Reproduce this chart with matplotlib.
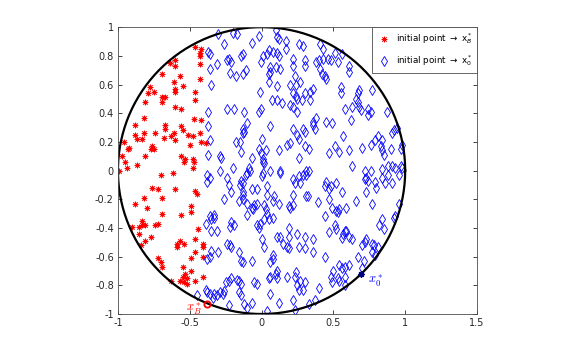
import numpy as np
import matplotlib
matplotlib.use("Agg")
import matplotlib.pyplot as plt
from matplotlib.font_manager import FontProperties

# initial points that end in x_B^* (red) and in x_0^* (blue)
red_pts = [
    (-0.46, 0.86), (-0.42, 0.85), (-0.43, 0.82), (-0.43, 0.80), (-0.60, 0.77), (-0.64, 0.75),
    (-0.60, 0.73), (-0.43, 0.74), (-0.69, 0.67), (-0.57, 0.66), (-0.43, 0.64), (-0.61, 0.62),
    (-0.55, 0.59), (-0.60, 0.57), (-0.60, 0.55), (-0.78, 0.58), (-0.75, 0.55), (-0.79, 0.54),
    (-0.46, 0.55), (-0.69, 0.51), (-0.67, 0.51),
    (-0.69, 0.48), (-0.81, 0.48), (-0.46, 0.49), (-0.60, 0.44), (-0.56, 0.43), (-0.82, 0.37),
    (-0.47, 0.36), (-0.42, 0.35), (-0.88, 0.32), (-0.67, 0.32), (-0.67, 0.29), (-0.56, 0.31),
    (-0.55, 0.28), (-0.82, 0.26), (-0.74, 0.26), (-0.61, 0.26), (-0.63, 0.24), (-0.51, 0.25),
    (-0.48, 0.24), (-0.88, 0.25), (-0.87, 0.22), (-0.83, 0.22), (-0.68, 0.23), (-0.60, 0.21),
    (-0.43, 0.26), (-0.42, 0.20), (-0.39, 0.19), (-0.96, 0.20), (-0.50, 0.18), (-0.76, 0.17),
    (-0.77, 0.15), (-0.75, 0.15), (-0.93, 0.15), (-0.92, 0.16), (-0.81, 0.10), (-0.97, 0.10),
    (-0.56, 0.10), (-0.53, 0.08), (-0.54, 0.06), (-0.48, 0.08), (-0.47, 0.06), (-0.95, 0.06),
    (-0.87, 0.04), (-0.48, 0.02), (-0.94, 0.02), (-0.99, 0.00),
    (-0.70, -0.03), (-0.62, -0.02), (-0.76, -0.12), (-0.72, -0.13), (-0.60, -0.13), (-0.69, -0.19),
    (-0.46, -0.14), (-0.45, -0.16), (-0.82, -0.19), (-0.88, -0.23), (-0.49, -0.25), (-0.80, -0.26),
    (-0.69, -0.30), (-0.49, -0.29), (-0.56, -0.31), (-0.83, -0.35), (-0.83, -0.38), (-0.81, -0.38),
    (-0.85, -0.39), (-0.90, -0.39), (-0.74, -0.38), (-0.72, -0.37), (-0.44, -0.41), (-0.85, -0.44),
    (-0.77, -0.46), (-0.81, -0.49), (-0.57, -0.49), (-0.54, -0.51), (-0.59, -0.51), (-0.46, -0.48),
    (-0.41, -0.51), (-0.84, -0.52),
    (-0.59, -0.53), (-0.41, -0.53), (-0.72, -0.61), (-0.70, -0.64), (-0.69, -0.67), (-0.55, -0.67),
    (-0.49, -0.61), (-0.46, -0.57), (-0.49, -0.70), (-0.53, -0.72), (-0.55, -0.74), (-0.52, -0.75),
    (-0.57, -0.77), (-0.54, -0.78), (-0.52, -0.79), (-0.63, -0.77), (-0.41, -0.74), (-0.46, -0.77),
    (-0.41, -0.60),
]

blue_pts = [
    (-0.37, 0.83), (-0.36, 0.81), (-0.36, 0.71), (-0.35, 0.60),
    (-0.30, 0.95), (-0.20, 0.96), (-0.17, 0.95), (-0.02, 0.94), (0.10, 0.98), (0.11, 0.93),
    (0.12, 0.92), (-0.26, 0.88), (-0.07, 0.89), (0.17, 0.90), (0.26, 0.88), (0.29, 0.87),
    (0.17, 0.85), (0.05, 0.84), (0.08, 0.83), (0.11, 0.82), (0.04, 0.81), (0.12, 0.80),
    (0.01, 0.80), (-0.14, 0.80), (-0.13, 0.81), (-0.23, 0.78), (-0.24, 0.77), (-0.21, 0.76),
    (-0.31, 0.74), (-0.005, 0.76), (0.22, 0.78), (0.30, 0.77), (0.06, 0.72), (0.10, 0.72),
    (0.13, 0.71), (0.22, 0.73), (-0.11, 0.70), (-0.13, 0.67), (0.06, 0.69), (0.05, 0.67),
    (-0.22, 0.68), (-0.18, 0.66), (0.23, 0.66), (0.05, 0.62), (0.11, 0.59), (0.20, 0.60),
    (0.24, 0.60), (0.27, 0.62), (-0.01, 0.55), (0.22, 0.54), (0.24, 0.52), (0.30, 0.54),
    (0.41, 0.88), (0.43, 0.85), (0.30, 0.73), (0.38, 0.76), (0.40, 0.77), (0.43, 0.78),
    (0.46, 0.78), (0.48, 0.77), (0.51, 0.82), (0.56, 0.81), (0.53, 0.76), (0.61, 0.73),
    (0.61, 0.69), (0.41, 0.71), (0.42, 0.67), (0.44, 0.66), (0.45, 0.64), (0.36, 0.57),
    (0.34, 0.55), (0.55, 0.58), (0.55, 0.54), (0.67, 0.54), (0.68, 0.56), (0.77, 0.56),
    (0.66, 0.50),
    (-0.37, 0.41), (-0.37, 0.31), (-0.36, 0.21), (-0.37, 0.11),
    (-0.24, 0.43), (-0.19, 0.43), (-0.12, 0.41), (-0.02, 0.41), (-0.005, 0.43), (0.07, 0.49),
    (0.11, 0.49), (0.14, 0.47), (0.20, 0.46), (0.22, 0.44), (0.25, 0.50), (0.28, 0.49),
    (0.25, 0.41), (-0.10, 0.33), (-0.13, 0.29), (-0.12, 0.27), (-0.13, 0.26), (0.06, 0.31),
    (0.22, 0.29), (0.29, 0.29), (0.30, 0.27), (0.25, 0.25), (0.26, 0.22), (-0.18, 0.20),
    (-0.15, 0.20), (-0.14, 0.13), (0.00, 0.22), (0.18, 0.18), (0.20, 0.19), (0.30, 0.17),
    (-0.02, 0.15), (-0.005, 0.12), (0.01, 0.08), (0.01, 0.06), (0.03, 0.14), (-0.07, 0.09),
    (0.12, 0.14), (0.26, 0.09), (-0.29, 0.10), (-0.28, 0.09), (0.02, 0.05), (-0.29, 0.00),
    (-0.20, 0.02), (-0.09, 0.02), (-0.08, 0.00), (0.06, 0.00), (0.13, 0.00),
    (0.34, 0.49), (0.67, 0.48), (0.58, 0.43), (0.63, 0.44), (0.68, 0.44), (0.69, 0.42),
    (0.74, 0.43), (0.76, 0.41), (0.74, 0.39), (0.87, 0.41), (0.38, 0.37), (0.36, 0.34),
    (0.36, 0.32), (0.37, 0.29), (0.45, 0.34), (0.49, 0.33), (0.62, 0.35), (0.94, 0.30),
    (0.92, 0.28), (0.91, 0.26), (0.57, 0.24), (0.81, 0.24), (0.79, 0.21), (0.84, 0.21),
    (0.76, 0.18), (0.83, 0.17), (0.84, 0.14), (0.85, 0.11), (0.98, 0.18), (0.97, 0.15),
    (0.33, 0.15), (0.51, 0.17), (0.54, 0.13), (0.47, 0.12), (0.61, 0.14), (0.70, 0.16),
    (0.90, 0.15), (0.63, 0.03), (0.72, 0.00), (0.76, 0.00), (0.84, 0.01), (0.88, 0.03),
    (0.91, 0.03), (0.93, 0.02), (0.97, 0.03), (0.98, 0.02), (0.31, 0.00), (0.33, 0.00),
    (-0.38, -0.03), (-0.36, -0.05), (-0.38, -0.08), (-0.36, -0.32), (-0.39, -0.37), (-0.35, -0.42),
    (-0.24, -0.05), (-0.23, -0.10), (-0.14, -0.07), (-0.13, -0.09), (-0.15, -0.10), (-0.10, -0.02),
    (-0.11, -0.03), (0.01, -0.02), (0.00, -0.04), (0.13, -0.02), (0.22, -0.06), (0.26, -0.04),
    (0.29, -0.03), (0.23, -0.09), (0.27, -0.09), (-0.07, -0.13), (-0.03, -0.13), (0.04, -0.11),
    (0.04, -0.17), (-0.21, -0.15), (-0.13, -0.15), (-0.13, -0.17), (-0.26, -0.20), (-0.16, -0.21),
    (-0.13, -0.20), (0.09, -0.18), (0.08, -0.21), (0.22, -0.17), (0.31, -0.18), (-0.10, -0.23),
    (-0.07, -0.26), (-0.05, -0.24), (-0.06, -0.27), (-0.10, -0.31), (-0.03, -0.23), (0.02, -0.24),
    (0.03, -0.27), (0.04, -0.30), (0.12, -0.23), (0.19, -0.25), (0.20, -0.26), (0.22, -0.24),
    (-0.33, -0.31), (-0.33, -0.33), (-0.35, -0.34), (0.02, -0.34), (0.05, -0.34), (0.08, -0.33),
    (-0.21, -0.36), (-0.19, -0.38), (-0.22, -0.39), (-0.03, -0.38), (-0.01, -0.37), (-0.02, -0.40),
    (0.19, -0.40), (-0.31, -0.42), (0.25, -0.44), (0.30, -0.46), (0.19, -0.46), (0.11, -0.46),
    (0.13, -0.46), (0.00, -0.48), (-0.24, -0.51), (-0.22, -0.52), (0.15, -0.51),
    (0.31, -0.03), (0.73, -0.05), (0.72, -0.06), (0.74, -0.07), (0.84, -0.05), (0.88, -0.03),
    (0.96, -0.03), (0.91, -0.09), (0.79, -0.08), (0.80, -0.12), (0.86, -0.09), (0.45, -0.08),
    (0.44, -0.11), (0.48, -0.11), (0.52, -0.09), (0.47, -0.13), (0.56, -0.15), (0.73, -0.15),
    (0.32, -0.18), (0.39, -0.22), (0.47, -0.20), (0.66, -0.21), (0.77, -0.23), (0.96, -0.23),
    (0.49, -0.26), (0.52, -0.28), (0.54, -0.27), (0.53, -0.29), (0.59, -0.26), (0.44, -0.32),
    (0.93, -0.32), (0.92, -0.33), (0.84, -0.34), (0.82, -0.38), (0.85, -0.41), (0.51, -0.38),
    (0.52, -0.41), (0.47, -0.43), (0.58, -0.42), (0.59, -0.42), (0.57, -0.44), (0.61, -0.46),
    (0.63, -0.48), (0.56, -0.47), (0.73, -0.48), (0.36, -0.48), (0.77, -0.51),
    (-0.38, -0.62), (-0.36, -0.60), (-0.39, -0.83), (-0.38, -0.85), (-0.36, -0.86), (-0.45, -0.87),
    (-0.21, -0.53), (-0.35, -0.56), (-0.30, -0.57), (-0.16, -0.57), (0.02, -0.53), (0.18, -0.53),
    (0.19, -0.54), (0.26, -0.53), (0.30, -0.54), (0.08, -0.59), (0.08, -0.62), (0.06, -0.64),
    (-0.14, -0.63), (-0.13, -0.64), (-0.07, -0.63), (0.11, -0.70), (0.10, -0.72), (0.11, -0.75),
    (0.06, -0.74), (0.05, -0.75), (0.18, -0.74), (-0.21, -0.75), (-0.23, -0.77), (-0.25, -0.78),
    (-0.17, -0.76), (-0.16, -0.77), (-0.14, -0.79), (-0.05, -0.78), (-0.03, -0.79), (0.24, -0.71),
    (0.23, -0.74), (0.27, -0.77), (0.25, -0.80), (0.26, -0.83), (-0.33, -0.86), (-0.34, -0.89),
    (-0.31, -0.87), (-0.29, -0.85), (-0.26, -0.84), (-0.27, -0.86), (-0.16, -0.85), (-0.14, -0.87),
    (0.06, -0.86), (-0.07, -0.92), (-0.12, -0.93), (-0.10, -0.96), (-0.23, -0.94), (0.12, -0.92),
    (0.22, -0.90), (0.23, -0.97), (0.04, -0.98),
    (0.36, -0.57), (0.44, -0.60), (0.70, -0.52), (0.72, -0.50), (0.78, -0.52), (0.81, -0.53),
    (0.77, -0.57), (0.79, -0.59), (0.67, -0.60), (0.71, -0.63), (0.70, -0.68), (0.54, -0.66),
    (0.58, -0.67), (0.56, -0.68), (0.61, -0.66), (0.50, -0.70), (0.48, -0.74), (0.49, -0.78),
    (0.54, -0.77), (0.53, -0.75), (0.58, -0.74), (0.58, -0.80), (0.30, -0.78), (0.29, -0.83),
    (0.40, -0.82), (0.37, -0.90), (0.33, -0.93),
]

xB = (-0.38, -0.93)   # limit point x_B^*
x0 = (0.69, -0.72)    # limit point x_0^*

red = np.array(red_pts)
blue = np.array(blue_pts)

fig = plt.figure(figsize=(5.81, 3.55), dpi=100)
ax = fig.add_axes([0.203, 0.1155, 0.618, 0.808])

ax.plot(red[:, 0], red[:, 1], ls='none', marker=(8, 2, 0), ms=4, mew=0.6, color='red',
        label=r'initial point $\rightarrow$ x$^*_B$')
ax.plot(blue[:, 0], blue[:, 1], ls='none', marker='d', ms=5, mew=0.6, mfc='none', color='blue',
        label=r'initial point $\rightarrow$ x$^*_0$')

# unit circle
t = np.linspace(0, 2 * np.pi, 400)
ax.plot(np.cos(t), np.sin(t), color='black', lw=1.6)

ax.plot(xB[0], xB[1], 'o', ms=4.5, mfc='none', mec='red', mew=1.3)
ax.plot(x0[0], x0[1], marker=(8, 2, 0), ms=4.5, mew=1.0, color='#000080')
ax.text(xB[0] - 0.09, xB[1] - 0.035, r'$x_B^*$', color='red', fontsize=9,
        math_fontfamily='cm', ha='center', va='center')
ax.text(x0[0] + 0.05, x0[1] - 0.05, r'$x_0^*$', color='blue', fontsize=9,
        math_fontfamily='cm', ha='left', va='center')

ax.set_xlim(-1, 1.5)
ax.set_ylim(-1, 1)
ax.set_xticks([-1, -0.5, 0, 0.5, 1, 1.5])
ax.set_xticklabels(['-1', '-0.5', '0', '0.5', '1', '1.5'])
ax.set_yticks(np.round(np.arange(-1, 1.01, 0.2), 1))
ax.set_yticklabels(['-1', '-0.8', '-0.6', '-0.4', '-0.2', '0', '0.2', '0.4', '0.6', '0.8', '1'])
ax.tick_params(direction='in', length=3, width=0.6, labelsize=7, colors='#262626',
               top=True, right=True, pad=3)
for s in ax.spines.values():
    s.set_color('#4d4d4d')
    s.set_linewidth(0.6)

leg = ax.legend(loc='upper right', borderaxespad=0, fancybox=False,
                framealpha=1, edgecolor='#4d4d4d', handlelength=1.6, handletextpad=0.6,
                borderpad=0.5, labelspacing=0.8,
                prop=FontProperties(size=6.3, math_fontfamily='dejavusans'))
leg.get_frame().set_linewidth(0.6)

fig.savefig('out.png', dpi=100)
